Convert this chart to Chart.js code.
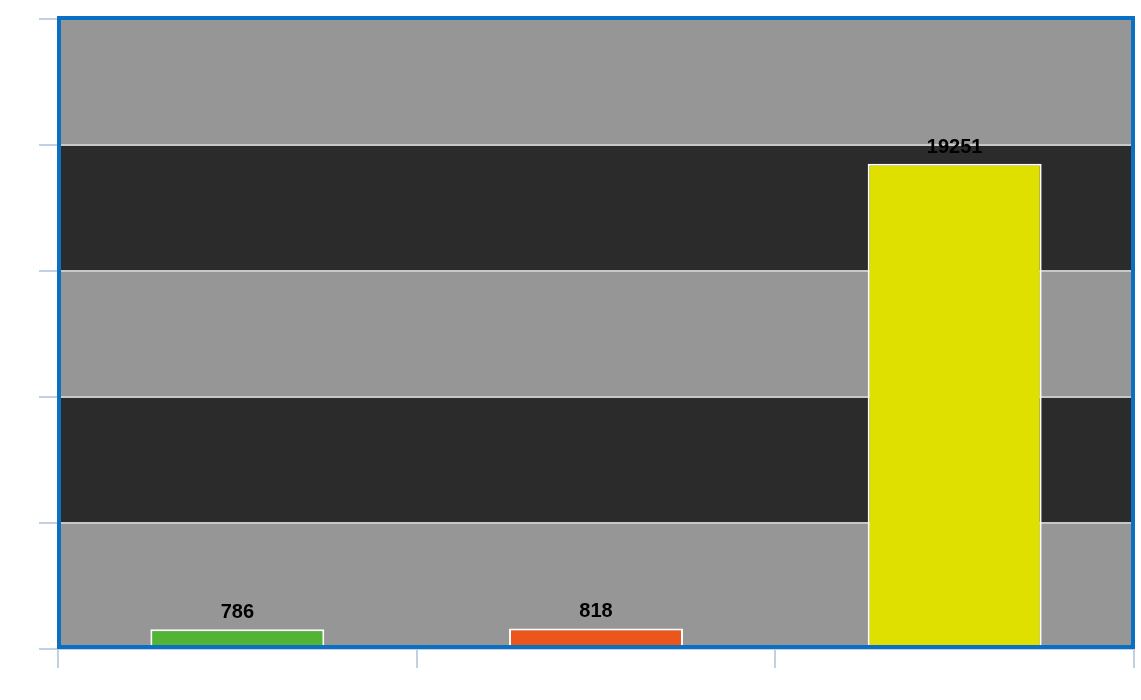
<!DOCTYPE html>
<html>
<head>
<meta charset="utf-8">
<script src="https://cdn.jsdelivr.net/npm/chart.js@4/dist/chart.umd.min.js"></script>
<style>
  html, body { margin: 0; padding: 0; background: #ffffff; }
  #wrap { width: 1141px; height: 700px; }
</style>
</head>
<body>
<div id="wrap"><canvas id="c" width="1141" height="700"></canvas></div>
<script>
const categories = ['A', 'B', 'C'];
const values = [786, 818, 19251];
const barColors = ['#52b435', '#ec561b', '#dfe000'];
const yTicks = [0, 5000, 10000, 15000, 20000, 25000];

const bandPlugin = {
  id: 'bands',
  beforeDraw(chart) {
    const { ctx, chartArea: a, scales: { y } } = chart;
    ctx.save();
    for (let i = 0; i < yTicks.length - 1; i++) {
      const top = y.getPixelForValue(yTicks[i + 1]);
      const bot = y.getPixelForValue(yTicks[i]);
      const ext = (i === yTicks.length - 2) ? 3 : 0;
      ctx.fillStyle = (i % 2 === 0) ? '#969696' : '#2b2b2b';
      ctx.fillRect(a.left, top - ext, a.right - a.left, bot - top + ext);
    }
    ctx.restore();
  },
  afterDatasetsDraw(chart) {
    const { ctx, chartArea: a } = chart;
    ctx.save();
    ctx.strokeStyle = '#0a70c4';
    ctx.lineWidth = 4;
    ctx.strokeRect(a.left + 1, a.top - 1, (a.right - 1) - (a.left + 1), (a.bottom - 2) - (a.top - 1));
    const meta = chart.getDatasetMeta(0);
    ctx.fillStyle = '#000000';
    ctx.font = 'bold 20px "Liberation Sans", Arial, sans-serif';
    ctx.textAlign = 'center';
    ctx.textBaseline = 'alphabetic';
    meta.data.forEach((bar, i) => {
      ctx.fillText(String(values[i]), bar.x, bar.y - 11);
    });
    ctx.restore();
  }
};

new Chart(document.getElementById('c'), {
  type: 'bar',
  data: {
    labels: categories,
    datasets: [{
      data: values,
      backgroundColor: barColors,
      borderColor: '#ffffff',
      borderWidth: 2,
      borderSkipped: 'bottom',
      categoryPercentage: 1,
      barPercentage: 0.485
    }]
  },
  options: {
    responsive: false,
    animation: false,
    devicePixelRatio: 1,
    layout: { padding: { left: 39, top: 19, right: 7, bottom: 32 } },
    plugins: { legend: { display: false }, tooltip: { enabled: false } },
    scales: {
      x: {
        ticks: { display: false },
        grid: {
          offset: true,
          drawOnChartArea: false,
          drawTicks: true,
          tickLength: 19,
          tickColor: '#c3d0e2',
          lineWidth: 2
        },
        border: { display: true, color: '#c3d0e2', width: 2 }
      },
      y: {
        min: 0,
        max: 25000,
        ticks: { display: false, stepSize: 5000 },
        grid: {
          color: '#c8c8c8',
          tickColor: '#c3d0e2',
          lineWidth: 2,
          tickLength: 19,
          drawTicks: true
        },
        border: { display: false }
      }
    }
  },
  plugins: [bandPlugin]
});
</script>
</body>
</html>
